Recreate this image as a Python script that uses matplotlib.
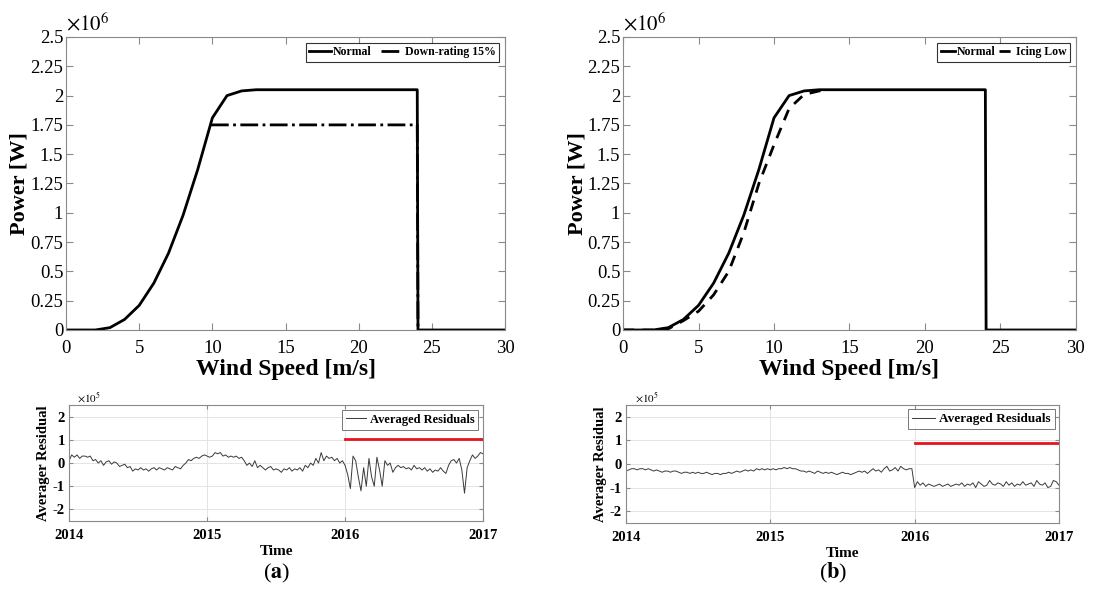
import numpy as np
import matplotlib
matplotlib.use("Agg")
import matplotlib.pyplot as plt

plt.rcParams['font.family'] = ['Liberation Serif', 'DejaVu Serif']
plt.rcParams['mathtext.fontset'] = 'stix'

# power curves (W, in units of 1e6)
wind_speed = [0, 1, 2, 3, 4, 5, 6, 7, 8, 9, 10, 11, 12, 13, 24, 24.05, 30]
power_normal = [0, 0, 0, 0.02, 0.09, 0.21, 0.40, 0.655, 0.98, 1.37, 1.81, 2.0, 2.04, 2.05, 2.05, 0, 0]
derate_speed = [9.9, 24, 24.05]
power_derate = [1.75, 1.75, 0]
icing_speed = [0, 1, 2, 3, 4, 5, 6, 7, 8, 9, 10, 11, 12, 13, 13.5]
power_icing = [0, 0, 0, 0.01, 0.08, 0.16, 0.30, 0.50, 0.83, 1.25, 1.58, 1.89, 2.01, 2.04, 2.05]

# weekly averaged residuals (x1e5), 2014 .. 2017
resid_a = [0.1, 0.35, 0.25, 0.35, 0.2, 0.3, 0.3, 0.25, 0.3, 0.1,
           0.15, 0.0, 0.1, -0.1, 0.05, 0.1, -0.05, 0.05, 0.0, -0.15,
           -0.1, -0.05, -0.2, -0.15, -0.35, -0.25, -0.3, -0.2, -0.3, -0.25,
           -0.35, -0.25, -0.2, -0.3, -0.2, -0.25, -0.3, -0.2, -0.25, -0.3,
           -0.15, -0.2, -0.25, -0.1, 0.0, 0.15, 0.1, 0.2, 0.25, 0.2, 0.3, 0.35,
           0.3, 0.25, 0.3, 0.45, 0.4, 0.45, 0.3, 0.35, 0.25, 0.3,
           0.25, 0.3, 0.2, 0.25, 0.1, -0.1, 0.0, -0.15, 0.1, -0.2,
           -0.1, -0.2, -0.3, -0.2, -0.15, -0.3, -0.25, -0.3, -0.4, -0.25,
           -0.3, -0.2, -0.35, -0.25, -0.3, -0.2, -0.35, -0.1, -0.2, 0.0,
           -0.1, 0.2, 0.0, 0.45, 0.1, 0.3, 0.2, 0.25, 0.1, 0.2, 0.0, 0.1,
           -0.1, -0.5, -1.1, 0.3, 0.1, -0.6, -1.2, -0.2, -1.0, 0.2,
           -0.6, -1.0, 0.25, -0.3, -1.0, 0.1, -0.1, 0.0, -0.4, -0.2,
           -0.1, -0.2, -0.15, -0.25, -0.2, -0.3, -0.1, -0.25, -0.2, -0.3,
           -0.2, -0.35, -0.25, -0.4, -0.3, -0.35, -0.2, -0.35, -0.45, -0.1,
           0.1, 0.15, 0.0, 0.2, -0.3, -1.3, -0.2, 0.1, 0.35, 0.2, 0.3, 0.45, 0.4]
resid_b = [-0.3, -0.25, -0.2, -0.2, -0.25, -0.2, -0.2, -0.25, -0.2, -0.25,
           -0.3, -0.25, -0.3, -0.35, -0.3, -0.3, -0.35, -0.3, -0.3, -0.35,
           -0.4, -0.35, -0.35, -0.4, -0.35, -0.4, -0.35, -0.4, -0.4, -0.35,
           -0.4, -0.45, -0.4, -0.4, -0.45, -0.4, -0.4, -0.35, -0.4, -0.35,
           -0.3, -0.35, -0.3, -0.25, -0.3, -0.25, -0.3, -0.2, -0.25, -0.2, -0.25, -0.2,
           -0.25, -0.2, -0.25, -0.2, -0.2, -0.15, -0.2, -0.15, -0.2, -0.2,
           -0.25, -0.3, -0.3, -0.35, -0.3, -0.35, -0.4, -0.3, -0.35, -0.4,
           -0.35, -0.4, -0.35, -0.4, -0.45, -0.4, -0.35, -0.4, -0.4, -0.45,
           -0.4, -0.35, -0.3, -0.35, -0.3, -0.4, -0.3, -0.2, -0.3, -0.25,
           -0.35, -0.2, -0.1, -0.3, -0.25, -0.15, -0.3, -0.1, -0.2, -0.25, -0.2, -0.2,
           -1.0, -0.75, -0.9, -0.8, -0.95, -0.85, -0.9, -0.95, -0.9, -0.85,
           -0.95, -0.9, -0.85, -0.95, -0.9, -0.85, -0.9, -0.8, -0.95, -0.85,
           -0.9, -0.8, -1.0, -0.75, -0.85, -0.95, -0.9, -0.7, -0.85, -0.9,
           -0.8, -0.85, -0.95, -0.75, -0.9, -0.8, -0.95, -0.85, -0.9, -0.75,
           -0.9, -0.85, -0.8, -0.95, -0.7, -0.85, -0.9, -0.8, -1.0, -0.95, -0.7, -0.75, -0.9]
threshold_a = 1.03
threshold_b = 0.88
years = [2014, 2015, 2016, 2017]

power_ticks = [0, 0.25, 0.5, 0.75, 1, 1.25, 1.5, 1.75, 2, 2.25, 2.5]
power_ticklabels = ['0', '0.25', '0.5', '0.75', '1', '1.25', '1.5', '1.75', '2', '2.25', '2.5']

frame_col = '#8a8a8a'


def style_power(ax, label_x):
    ax.set_xlim(0, 30)
    ax.set_ylim(0, 2.5)
    ax.set_xticks([0, 5, 10, 15, 20, 25, 30])
    ax.set_yticks(power_ticks)
    ax.set_yticklabels(power_ticklabels)
    ax.tick_params(direction='in', top=True, right=True, labelsize=13.5,
                   length=5, color=frame_col, pad=2)
    ax.tick_params(axis='x', pad=7)
    for s in ax.spines.values():
        s.set_color(frame_col)
    ax.set_xlabel('Wind Speed [m/s]', fontsize=17, fontweight='bold', labelpad=2)
    ax.set_ylabel('Power [W]', fontsize=16, fontweight='bold', va='center')
    ax.yaxis.set_label_coords(label_x, 0.5)
    ax.text(0.0, 1.005, r'$\times10^{6}$', transform=ax.transAxes,
            fontsize=15, ha='left', va='bottom')


def style_resid(ax):
    ax.set_xlim(2014, 2017)
    ax.set_ylim(-2.5, 2.5)
    ax.set_xticks(years)
    ax.set_xticklabels([str(y) for y in years], fontweight='bold')
    ax.set_yticks([-2, -1, 0, 1, 2])
    ax.set_yticklabels(['-2', '-1', '0', '1', '2'], fontweight='bold')
    ax.tick_params(direction='in', top=True, right=True, labelsize=10.5,
                   length=3, color=frame_col, pad=3)
    ax.tick_params(axis='x', pad=6)
    ax.grid(True, color='#e4e4e4', linewidth=0.7)
    for s in ax.spines.values():
        s.set_color(frame_col)
    ax.set_xlabel('Time', fontsize=11, fontweight='bold', labelpad=2)
    ax.set_ylabel('Averager Residual', fontsize=10.5, fontweight='bold', labelpad=2)
    ax.text(0.02, 1.0, r'$\times10^{5}$', transform=ax.transAxes,
            fontsize=8, ha='left', va='bottom')


fig = plt.figure(figsize=(11.1, 5.9), dpi=100)

ax1 = fig.add_axes([0.0595, 0.4407, 0.3955, 0.4966])
ax1.plot(wind_speed, power_normal, color='black', lw=2.0, label='Normal')
ax1.plot(derate_speed, power_derate, color='black', lw=2.0, ls='-.', label='Down-rating 15%')
style_power(ax1, -0.107)
leg = ax1.legend(loc='upper right', ncol=2, prop={'weight': 'bold', 'size': 8.5},
                 frameon=True, fancybox=False, edgecolor='black', handlelength=1.8,
                 handletextpad=0.2, columnspacing=0.8, borderpad=0.3, borderaxespad=0.5)
leg.get_frame().set_linewidth(0.8)

ax2 = fig.add_axes([0.5613, 0.4407, 0.408, 0.4966])
ax2.plot(wind_speed, power_normal, color='black', lw=2.0, label='Normal')
ax2.plot(icing_speed, power_icing, color='black', lw=2.0, ls=(0, (4, 3)), label='Icing Low')
style_power(ax2, -0.1)
leg = ax2.legend(loc='upper right', ncol=2, prop={'weight': 'bold', 'size': 8.5},
                 frameon=True, fancybox=False, edgecolor='black', handlelength=1.2,
                 handletextpad=0.2, columnspacing=0.3, borderpad=0.3, borderaxespad=0.5)
leg.get_frame().set_linewidth(0.8)

t = 2014 + np.arange(len(resid_a)) / 52.0

ax3 = fig.add_axes([0.0622, 0.1169, 0.373, 0.1966])
ax3.plot(t, resid_a, color='#3a3a3a', lw=0.7, label='Averaged Residuals')
ax3.plot([2016, 2017], [threshold_a, threshold_a], color='#e8141c', lw=2.0)
style_resid(ax3)
leg = ax3.legend(loc='upper right', prop={'weight': 'bold', 'size': 9},
                 frameon=True, fancybox=False, edgecolor='#555555', handlelength=1.6,
                 handletextpad=0.3, borderpad=0.3, borderaxespad=0.4)
leg.get_frame().set_linewidth(0.7)

ax4 = fig.add_axes([0.564, 0.1136, 0.390, 0.2])
ax4.plot(t, resid_b, color='#3a3a3a', lw=0.7, label='Averaged Residuals')
ax4.plot([2016, 2017], [threshold_b, threshold_b], color='#e8141c', lw=2.0)
style_resid(ax4)
leg = ax4.legend(loc='upper right', prop={'weight': 'bold', 'size': 9.5},
                 frameon=True, fancybox=False, edgecolor='#555555', handlelength=1.8,
                 handletextpad=0.3, borderpad=0.3, borderaxespad=0.3)
leg.get_frame().set_linewidth(0.7)

fig.text(277 / 1110, 1 - 573 / 590, r'($\mathbf{a}$)', fontsize=16, ha='center', va='center')
fig.text(833 / 1110, 1 - 573 / 590, r'($\mathbf{b}$)', fontsize=16, ha='center', va='center')

fig.savefig('out.png', dpi=100)
